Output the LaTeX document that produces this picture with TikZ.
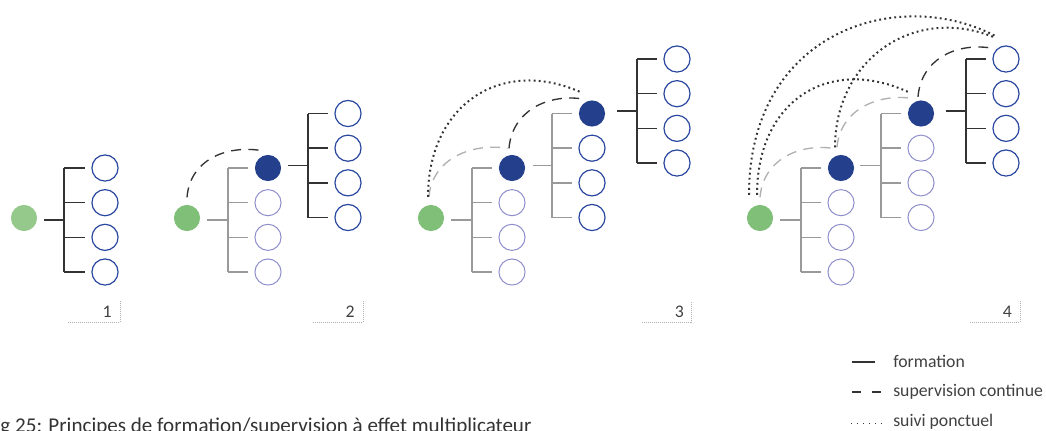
\documentclass[tikz,border=0pt]{standalone}
\usepackage{fontspec}
\setmainfont{Carlito}
\usetikzlibrary{calc}
\definecolor{gA}{HTML}{95C98C}
\definecolor{gB}{HTML}{80BF78}
\definecolor{dblue}{HTML}{243F8C}
\definecolor{oblue}{HTML}{2A47A0}
\definecolor{lblue}{HTML}{8D8DCB}
\definecolor{ldark}{HTML}{333333}
\definecolor{ltext}{HTML}{404040}
\definecolor{lgray}{HTML}{9A9A9A}
\definecolor{lgray2}{HTML}{B0B0B0}
\tikzset{
 nd/.style={circle, minimum size=19.6pt, inner sep=0pt, line width=0.9pt},
 src/.style={nd, fill=gB},
 hub/.style={nd, fill=dblue},
 cur/.style={nd, draw=oblue},
 old/.style={nd, draw=lblue, line width=0.75pt},
 treeD/.style={draw=ldark, line width=1.1pt},
 treeG/.style={draw=lgray, line width=1.1pt},
 supD/.style={draw=ldark, line width=1pt, dash pattern=on 7.5pt off 5.5pt},
 supG/.style={draw=lgray2, line width=1pt, dash pattern=on 7.5pt off 5.5pt},
 suivi/.style={draw=ldark, line width=1.5pt, line cap=butt, dash pattern=on 1.4pt off 2.4pt},
 tag/.style={draw=lgray2, line width=0.7pt, dash pattern=on 0.75pt off 0.75pt},
 num/.style={font=\fontsize{13.3}{16}\selectfont, text=ltext, anchor=base east, inner sep=0pt},
 leg/.style={font=\fontsize{13.3}{16}\selectfont, text=ltext, anchor=base west, inner sep=0pt},
}
\newcommand\mytree[9]{%
 \coordinate (#1k) at (#2,{#5+1.5*#6});
 \coordinate (#1s) at (#3,{#5+1.5*#6});
 \node[#8] (#11) at (#4,#5) {};
 \foreach \i in {2,3,4} {\node[#9] (#1\i) at (#4,{#5+(\i-1)*#6}) {};}
 \draw[#7] (#1k) -- (#1s);
 \draw[#7] (#1s |- #11) -- (#1s |- #14);
 \foreach \i in {1,...,4} {\draw[#7] (#1s |- #1\i) -- ($(#1\i.west)+(-6.5,0)$);}
}
\begin{document}
\begin{tikzpicture}[x=0.75pt,y=-0.75pt]
\useasboundingbox (0,0) rectangle (1046,430);
\clip (0,0) rectangle (1046,430);
% ---------- panel 1
\node[src, fill=gA] (g1) at (24,218) {};
\mytree{p1a}{44}{64}{105}{168}{34.67}{treeD}{cur}{cur}
% ---------- panel 2
\node[src] (g2) at (187,218) {};
\mytree{p2a}{207}{228}{268}{168}{34.67}{treeG}{hub}{old}
\mytree{p2b}{288}{308}{348}{113.5}{34.67}{treeD}{cur}{cur}
\draw[supD] ($(g2.north)+(0,-7)$) .. controls +(3,-37) and +(-35,-5) .. ($(p2a1.north)+(-8,-4)$);
% ---------- panel 3
\node[src] (g3) at (431,218) {};
\mytree{p3a}{451}{472}{512}{168}{34.67}{treeG}{hub}{old}
\mytree{p3b}{533}{552}{592}{113.5}{34.67}{treeG}{hub}{cur}
\mytree{p3c}{617}{637}{677}{59}{34.67}{treeD}{cur}{cur}
\draw[supG] ($(g3.north)+(-2,-7.5)$) .. controls +(3,-37) and +(-38,-6) .. ($(p3a1.north)+(-4,-6)$);
\draw[supD] ($(p3a1.north)+(-3,-6)$) .. controls +(3,-37) and +(-35,-5) .. ($(p3b1.north)+(-10,-1)$);
\draw[suivi] ($(g3.north)+(-3,-7.5)$) .. controls +(0,-91) and +(-80,-35) .. ($(p3b1.north)+(-12,-8)$);
% ---------- panel 4
\node[src] (g4) at (760,218) {};
\mytree{p4a}{780}{801}{841}{168}{34.67}{treeG}{hub}{old}
\mytree{p4b}{860}{881}{921}{113.5}{34.67}{treeG}{hub}{old}
\mytree{p4c}{946}{966}{1006}{59}{34.67}{treeD}{cur}{cur}
\draw[supG] ($(g4.north)+(0,-7)$) .. controls +(3,-37) and +(-35,-5) .. ($(p4a1.north)+(-8,-6)$);
\draw[supG] ($(p4a1.north)+(-4,-7)$) .. controls +(3,-37) and +(-35,-5) .. ($(p4b1.north)+(-9,-1.5)$);
\draw[supD] ($(p4b1.north)+(-3,-3)$) .. controls +(3,-37) and +(-35,-5) .. ($(p4c1.north)+(-16,2.5)$);
\draw[suivi] ($(g4.north)+(-3,-9.5)$) .. controls +(0,-95) and +(-80,-38) .. ($(p4b1.north)+(-11,-7)$);
\draw[suivi] ($(p4a1.north)+(-6,-7)$) .. controls +(0,-87) and +(-80,-32) .. ($(p4c1.north)+(-13,-8.5)$);
\draw[suivi] ($(g4.north)+(-11,-9.5)$) .. controls +(0,-165) and +(-97,-52) .. ($(p4c1.north)+(-9,-8.5)$);
% ---------- panel tags
\draw[tag] (68,322) -- (120,322) -- (120,301);
\node[num] (n1) at (112,317) {1};
\draw[tag] (313,322) -- (363,322) -- (363,301);
\node[num] (n2) at (355,317) {2};
\draw[tag] (642,322) -- (691,322) -- (691,301);
\node[num] (n3) at (684,317) {3};
\draw[tag] (970,322) -- (1020,322) -- (1020,301);
\node[num] (n4) at (1012,317) {4};
% ---------- legend
\draw[treeD, line width=1.3pt] (852,362) -- (875,362);
\node[leg] (lf) at (893,367) {formation};
\draw[draw=ldark, line width=1.5pt, dash pattern=on 7pt off 8pt] (852,392) -- (883,392);
\node[leg] (ls) at (893,396) {supervision continue};
\draw[draw=ldark, line width=1.1pt, line cap=butt, dash pattern=on 1.1pt off 3.4pt] (851,423.5) -- (883,423.5);
\node[leg] (lp) at (893,426.5) {suivi ponctuel};
% ---------- caption
\node[leg, text=ldark, font=\fontsize{15.8}{18}\selectfont] (cap) at (-14.3,432.3) {Fig 25: Principes de formation/supervision à effet multiplicateur};
\end{tikzpicture}
\end{document}
